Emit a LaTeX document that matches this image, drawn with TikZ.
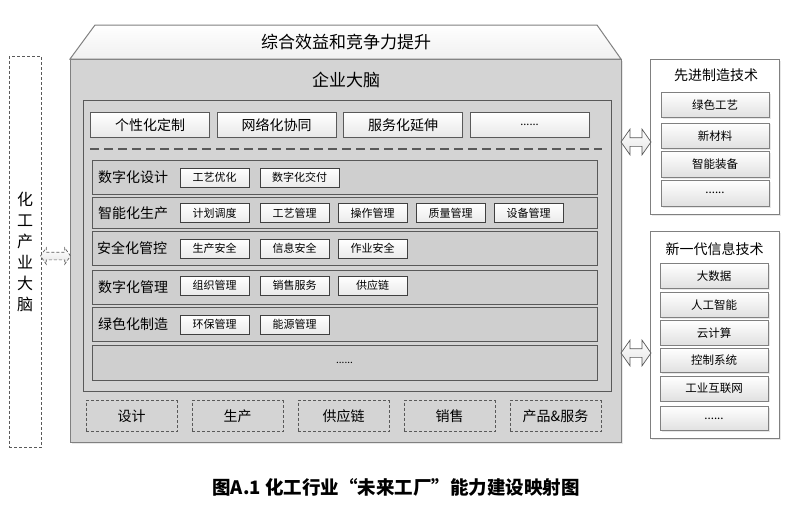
\documentclass[tikz,border=0pt]{standalone}
\usepackage{fontspec}
\setmainfont{Noto Sans CJK SC}
\usepackage{xcolor}
\definecolor{ff-line}{RGB}{89,89,89}
\definecolor{ff-edge}{RGB}{128,128,128}
\definecolor{ff-box}{RGB}{212,212,212}
\definecolor{ff-row}{RGB}{207,207,207}
\usepackage{tikz}
\usetikzlibrary{shapes,arrows,positioning,shadows}

\begin{document}
\begin{tikzpicture}[x=1pt,y=-1pt,
    every node/.style={inner sep=0pt,outer sep=0pt},
    softshadow/.style={drop shadow={shadow xshift=1.5pt,shadow yshift=-1.5pt,fill=black!18}},
    mainbox/.style={draw=ff-edge,line width=1pt,fill=ff-box,softshadow},
    framebox/.style={draw=ff-line,line width=0.8pt,fill=ff-box},
    rowbox/.style={draw=ff-line,line width=0.8pt,fill=ff-row,minimum width=505pt},
    rowlabel/.style={anchor=west,font=\fontsize{14}{16}\selectfont},
    topbox/.style={draw=ff-line,line width=0.8pt,top color=white,bottom color=black!9,minimum width=119pt,minimum height=24.5pt,font=\fontsize{14}{16}\selectfont,softshadow},
    subbox/.style={draw=black!75,line width=0.8pt,top color=white,bottom color=black!8,minimum width=69pt,minimum height=19pt,font=\fontsize{11}{13}\selectfont,softshadow},
    flowbox/.style={draw=ff-line,densely dashed,line width=0.8pt,minimum width=91pt,minimum height=31pt,font=\fontsize{14}{16}\selectfont},
    panel/.style={draw=ff-edge,line width=0.8pt,fill=white,minimum width=129pt,softshadow},
    techbox/.style={draw=ff-edge,line width=0.8pt,top color=white,bottom color=black!12,minimum width=108pt,font=\fontsize{11.5}{13}\selectfont,softshadow},
    dblarr/.style={double arrow,draw=ff-line,line width=0.7pt,top color=white,bottom color=black!10,minimum height=30pt,minimum width=8pt,inner sep=4pt,double arrow head extend=8.5pt,double arrow tip angle=110}]
    \useasboundingbox (0,0) rectangle (790,504);

    % enterprise brain with its roof
    \node[mainbox,minimum width=551pt,minimum height=383pt] (main) at (345.5,250.5) {};
    \draw[draw=ff-edge,line width=1pt,top color=white,bottom color=black!6] (main.north west) -- (95,25) -- (597,25) -- (main.north east) -- cycle;
    \node[font=\fontsize{17}{20}\selectfont] (goal) at (346,42) {综合效益和竞争力提升};
    \node[font=\fontsize{17}{20}\selectfont] (brain) at (346,80) {企业大脑};
    \node[framebox,minimum width=528pt,minimum height=291pt] (frame) at (347,245.5) {};

    \node[topbox] (p1) at (150,124.75) {个性化定制};
    \node[topbox] (p2) at (276.5,124.75) {网络化协同};
    \node[topbox] (p3) at (403,124.75) {服务化延伸};
    \node[topbox] (p4) at (529.5,124.75) {\fontsize{11}{13}\selectfont ......};
    \draw[ff-line,line width=1.4pt,dash pattern=on 9pt off 5pt] (90,149) -- (602,149);

    % capability rows
    \node[rowbox,minimum height=34pt] (r1) at (344.5,177) {};
    \node[rowbox,minimum height=31.5pt] (r2) at (344.5,212.75) {};
    \node[rowbox,minimum height=34pt] (r3) at (344.5,248.5) {};
    \node[rowbox,minimum height=33.5pt] (r4) at (344.5,287.25) {};
    \node[rowbox,minimum height=34.5pt] (r5) at (344.5,324.25) {};
    \node[rowbox,minimum height=35pt] (r6) at (344.5,363) {\fontsize{10}{12}\selectfont ......};

    \node[rowlabel] (r1t) at (98,177) {数字化设计};
    \node[rowlabel] (r2t) at (98,212.75) {智能化生产};
    \node[rowlabel] (r3t) at (97,248.5) {安全化管控};
    \node[rowlabel] (r4t) at (98,287.25) {数字化管理};
    \node[rowlabel] (r5t) at (98,324.25) {绿色化制造};

    \node[subbox] (s11) at (214.5,177.5) {工艺优化};
    \node[subbox,minimum width=79pt] (s12) at (299.5,177.5) {数字化交付};
    \node[subbox] (s21) at (214.5,213) {计划调度};
    \node[subbox] (s22) at (294.5,213) {工艺管理};
    \node[subbox] (s23) at (372.5,213) {操作管理};
    \node[subbox] (s24) at (450.5,213) {质量管理};
    \node[subbox] (s25) at (528.5,213) {设备管理};
    \node[subbox] (s31) at (214.5,248.5) {生产安全};
    \node[subbox] (s32) at (294.5,248.5) {信息安全};
    \node[subbox] (s33) at (372.5,248.5) {作业安全};
    \node[subbox] (s41) at (214.5,285.5) {组织管理};
    \node[subbox] (s42) at (294.5,285.5) {销售服务};
    \node[subbox] (s43) at (372.5,285.5) {供应链};
    \node[subbox] (s51) at (214.5,324.5) {环保管理};
    \node[subbox] (s52) at (294.5,324.5) {能源管理};

    % value chain
    \node[flowbox] (f1) at (131.5,416) {设计};
    \node[flowbox] (f2) at (237.5,416) {生产};
    \node[flowbox] (f3) at (343.5,416) {供应链};
    \node[flowbox] (f4) at (449.5,416) {销售};
    \node[flowbox] (f5) at (555.5,416) {产品\&服务};

    % technology panels
    \node[panel,minimum height=155pt] (adv) at (714.5,136.5) {};
    \node[font=\fontsize{14}{16}\selectfont] (advt) at (716,75) {先进制造技术};
    \node[techbox,minimum height=25.5pt] (adv1) at (715,105) {绿色工艺};
    \node[techbox,minimum height=25.5pt] (adv2) at (715,135.7) {新材料};
    \node[techbox,minimum height=25.5pt] (adv3) at (715,164.3) {智能装备};
    \node[techbox,minimum height=25.5pt] (adv4) at (715,193.3) {......};

    \node[panel,minimum height=207pt] (info) at (714.5,335.3) {};
    \node[font=\fontsize{14}{16}\selectfont] (infot) at (714.5,249.5) {新一代信息技术};
    \node[techbox,minimum height=24.5pt] (info1) at (714,276) {大数据};
    \node[techbox,minimum height=24.5pt] (info2) at (714,305) {人工智能};
    \node[techbox,minimum height=24.5pt] (info3) at (714,332.7) {云计算};
    \node[techbox,minimum height=24.5pt] (info4) at (714,360.3) {控制系统};
    \node[techbox,minimum height=24.5pt] (info5) at (714,388.7) {工业互联网};
    \node[techbox,minimum height=24.5pt] (info6) at (714,418.5) {......};

    % industry brain
    \node[draw=ff-line,densely dashed,line width=0.8pt,minimum width=32pt,minimum height=391.5pt,align=center,font=\fontsize{16}{21}\selectfont] (chem) at (25,251.75) {化\\工\\产\\业\\大\\脑};

    \node[dblarr] (a1) at (636,142) {};
    \node[dblarr] (a2) at (636,353) {};
    \node[dblarr,densely dashed,inner sep=3.5pt,double arrow head extend=4.5pt] (a0) at (55.5,256) {};

    \node[font=\fontsize{18.5}{22}\selectfont\bfseries] (cap) at (396,487) {图A.1 化工行业“未来工厂”能力建设映射图};
\end{tikzpicture}
\end{document}
